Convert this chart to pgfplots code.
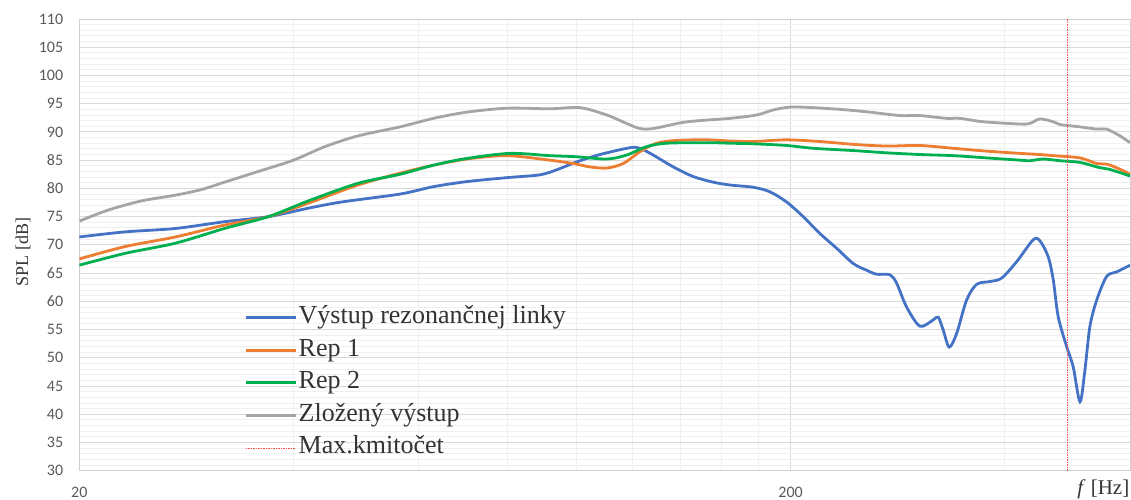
\documentclass[border=0pt]{standalone}
\usepackage{fontspec}
\setmainfont{Liberation Serif}
\newfontfamily\calibri{Carlito}
\usepackage{pgfplots}
\pgfplotsset{compat=1.18}

\definecolor{cblue}{HTML}{4472C4}
\definecolor{corange}{HTML}{ED7D31}
\definecolor{cgreen}{HTML}{00B050}
\definecolor{cgrey}{HTML}{A5A5A5}
\definecolor{cred}{HTML}{FF5050}
\definecolor{gridmaj}{HTML}{D9D9D9}
\definecolor{gridmin}{HTML}{F0F0F0}
\definecolor{axisc}{HTML}{D0D0D0}
\definecolor{tickc}{HTML}{595959}
\definecolor{textc}{HTML}{333333}

\begin{document}
\begin{tikzpicture}
\useasboundingbox (-79.3pt,-28.3pt) rectangle (1051.7pt,470.7pt);
\begin{semilogxaxis}[
  at={(0pt,0pt)}, anchor=south west,
  scale only axis, width=1050.7pt, height=451.7pt,
  xmin=20, xmax=600, ymin=30, ymax=110,
  xtick={20,200}, xticklabels={20,200},
  minor xtick={40,60,80,100,120,140,160,180,400,600},
  ytick={30,35,...,110},
  minor y tick num=4,
  grid=both,
  major grid style={draw=gridmaj, line width=0.9pt},
  minor grid style={draw=gridmin, line width=0.9pt},
  major tick length=0pt, minor tick length=0pt,
  axis line style={draw=axisc, line width=0.9pt},
  /pgf/number format/assume math mode=true,
  ticklabel style={font=\calibri\fontsize{16}{19}\selectfont, text=tickc},
  xticklabel style={anchor=base, yshift=-26.5pt},
  yticklabel style={anchor=east, inner sep=0pt, xshift=-16pt},
  ylabel={SPL [dB]},
  ylabel style={at={(axis description cs:-0.0536,0.484)}, anchor=center,
    font=\fontsize{18}{21}\selectfont, text=textc},
  xlabel={\textit{f} [Hz]},
  xlabel style={at={(axis description cs:0.9995,-0.0535)}, anchor=base east,
    inner sep=0pt, font=\fontsize{21}{25}\selectfont, text=textc},
  legend style={at={(axis description cs:0.1569,0.3695)}, anchor=north west,
    draw=none, fill=none, inner sep=0pt, column sep=0pt, row sep=5.6pt,
    font=\fontsize{26}{30}\selectfont, text=textc,
    nodes={inner sep=1.5pt, text height=18pt, text depth=6pt}},
  legend cell align=left,
  legend image code/.code={\draw[#1] (0pt,0pt) -- (50pt,0pt);},
]
\addplot[cblue, line width=2.8pt, smooth, tension=0.5] coordinates {
(20,71.4) (23.2,72.3) (27.3,72.9) (32.0,74.1) (36.9,75.0) (42.0,76.5)
(46.8,77.6) (56.5,79.0) (62.9,80.3) (70.1,81.2) (79.8,81.9) (88.8,82.4)
(93.8,83.3) (100.1,84.7) (107.9,86.0) (118.9,87.2) (122.8,87.1) (128.2,85.9)
(136.8,83.8) (145.9,82.1) (155.7,81.1) (164.3,80.6) (177.2,80.2) (187.0,79.4)
(197.4,77.6) (208.3,75.0) (219.9,72.0) (232.1,69.4) (244.9,66.7) (255.8,65.5)
(264.2,64.8) (275.8,64.7) (281.9,63.2) (291.1,59.0) (303.9,55.6) (317.3,56.7)
(322.5,57.2) (327.8,54.9) (334.2,51.9) (342.3,54.3) (353.5,60.2) (365.2,63.0)
(381.2,63.5) (395.9,64.1) (415.6,67.0) (438.6,70.9) (448.3,70.7) (460.4,67.9)
(468.0,63.8) (475.5,57.3) (488.7,52.0) (499.2,48.4) (510.3,42.2) (518.5,47.8)
(526.9,55.5) (538.6,60.2) (556.3,64.4) (574.5,65.2) (600,66.4)
};
\addlegendentry{Výstup rezonančnej linky}
\addplot[corange, line width=2.8pt, smooth, tension=0.5] coordinates {
(20,67.5) (23.2,69.7) (27.3,71.4) (32.0,73.5) (36.9,75.0) (42.0,77.4)
(49.3,80.6) (56.5,82.7) (62.9,84.1) (70.1,85.2) (79.8,85.8) (91.7,85.0)
(99.0,84.4) (104.5,83.8) (110.3,83.6) (116.3,84.4) (122.8,86.5) (129.6,88.0)
(138.3,88.5) (152.4,88.6) (164.3,88.4) (177.2,88.3) (197.4,88.6) (219.9,88.3)
(244.9,87.8) (272.9,87.5) (303.9,87.6) (338.5,87.1) (377.2,86.6) (420.2,86.2)
(448.3,86.0) (468.0,85.8) (510.3,85.4) (538.6,84.4) (556.3,84.3) (580.8,83.4)
(600,82.5)
};
\addlegendentry{Rep 1}
\addplot[cgreen, line width=2.8pt, smooth, tension=0.5] coordinates {
(20,66.4) (23.2,68.5) (27.3,70.3) (32.0,72.9) (36.9,75.0) (42.0,77.8)
(49.3,80.9) (56.5,82.5) (62.9,84.1) (70.1,85.3) (80.6,86.2) (91.7,85.8)
(100.1,85.6) (110.3,85.2) (117.6,85.9) (125.5,87.4) (133.9,88.0) (152.4,88.1)
(164.3,88.0) (177.2,87.9) (197.4,87.6) (215.2,87.1) (244.9,86.7) (272.9,86.3)
(303.9,86.0) (338.5,85.8) (377.2,85.4) (420.2,85.0) (434.0,84.9) (453.0,85.2)
(478.3,84.9) (510.3,84.6) (542.7,83.7) (560.6,83.4) (600,82.2)
};
\addlegendentry{Rep 2}
\addplot[cgrey, line width=2.8pt, smooth, tension=0.5] coordinates {
(20,74.2) (22.0,76.2) (24.5,77.8) (27.3,78.8) (29.7,79.8) (32.0,81.1)
(35.7,83.0) (40.0,85.0) (44.3,87.4) (49.3,89.3) (56.5,90.9) (62.9,92.4)
(70.1,93.5) (79.8,94.2) (91.7,94.1) (101.1,94.3) (110.3,93.0) (117.6,91.5)
(122.8,90.6) (128.2,90.6) (141.3,91.7) (152.4,92.1) (164.3,92.4) (179.2,93.0)
(189.1,93.9) (200,94.4) (215.2,94.3) (239.8,93.9) (258.6,93.5) (284.9,92.9)
(303.9,92.9) (331.4,92.4) (346.0,92.4) (373.1,91.8) (420.2,91.4) (434.0,91.5)
(448.3,92.3) (468.0,91.8) (478.3,91.3) (510.3,90.9) (538.6,90.5) (556.3,90.5)
(580.8,89.3) (600,88.1)
};
\addlegendentry{Zložený výstup}
\addplot[cred, line width=0.7pt, dash pattern=on 1.5pt off 1pt] coordinates {(490,30) (490,110)};
\addlegendentry{Max.kmitočet}
\end{semilogxaxis}
\end{tikzpicture}
\end{document}
